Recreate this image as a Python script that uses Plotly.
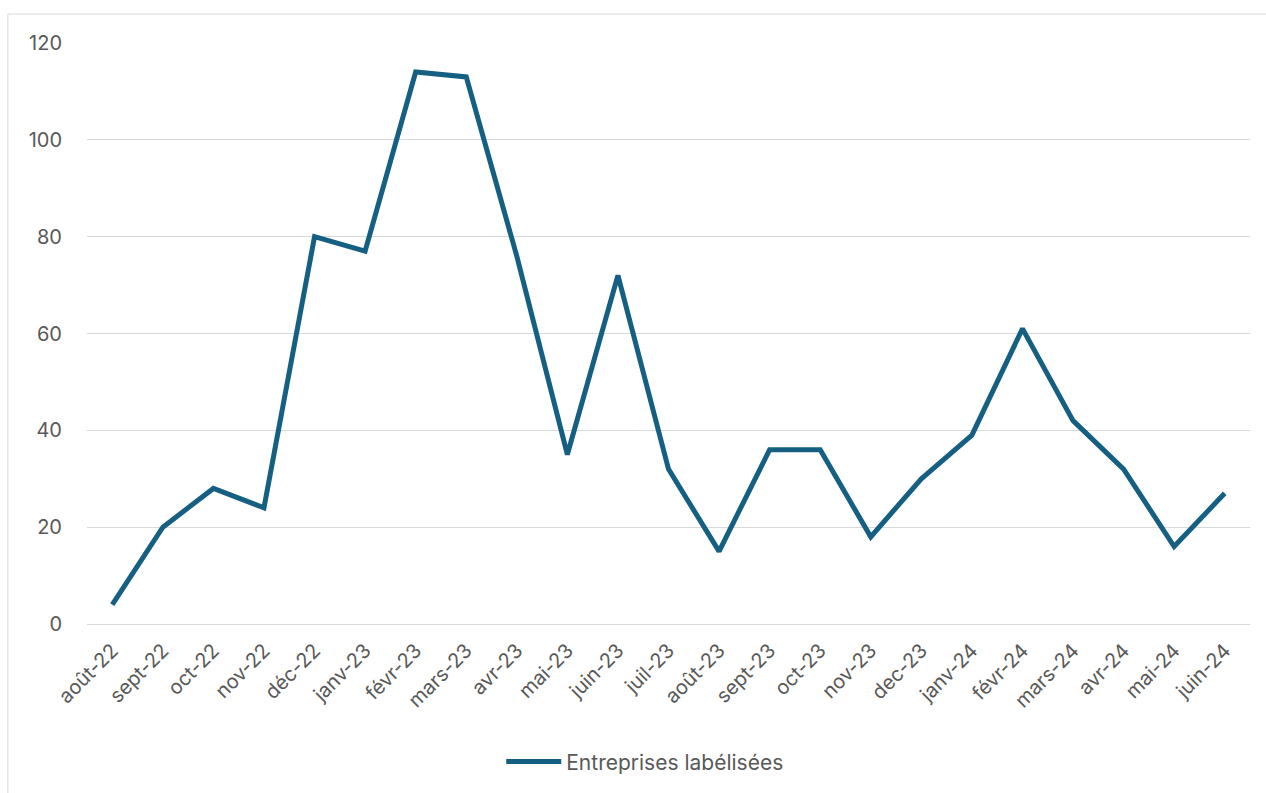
import plotly.graph_objects as go

# Monthly count of labelled companies
months = [
    "août-22", "sept-22", "oct-22", "nov-22", "déc-22", "janv-23", "févr-23",
    "mars-23", "avr-23", "mai-23", "juin-23", "juil-23", "août-23", "sept-23",
    "oct-23", "nov-23", "dec-23", "janv-24", "févr-24", "mars-24", "avr-24",
    "mai-24", "juin-24",
]
labelled = [4, 20, 28, 24, 80, 77, 114, 113, 76, 35, 72, 32, 15, 36, 36, 18,
            30, 39, 61, 42, 32, 16, 27]

y_ticks = [0, 20, 40, 60, 80, 100, 120]

LINE_COLOR = "#156082"
TEXT_COLOR = "#595959"
GRID_COLOR = "#d9d9d9"
FONT = "Inter, Open Sans, sans-serif"

fig = go.Figure()
fig.add_trace(go.Scatter(
    x=months,
    y=labelled,
    mode="lines",
    name="Entreprises labélisées",
    line=dict(color=LINE_COLOR, width=5, shape="linear"),
))

fig.update_layout(
    width=1266,
    height=793,
    margin=dict(l=87, r=16, t=43, b=168),
    paper_bgcolor="white",
    plot_bgcolor="white",
    font=dict(family=FONT, size=20, color=TEXT_COLOR),
    showlegend=True,
    legend=dict(
        orientation="h",
        x=0.48,
        xanchor="center",
        y=-0.235,
        yanchor="middle",
        font=dict(size=21, color=TEXT_COLOR),
        itemwidth=55,
    ),
    xaxis=dict(
        type="category",
        range=[-0.5, len(months) - 0.5],
        tickangle=-45,
        showgrid=False,
        showline=False,
        ticks="",
        zeroline=False,
        ticklabelstandoff=10,
        tickfont=dict(size=20, color=TEXT_COLOR),
    ),
    yaxis=dict(
        range=[0, 120],
        tickvals=y_ticks,
        showgrid=True,
        gridcolor=GRID_COLOR,
        gridwidth=1,
        zeroline=True,
        zerolinecolor=GRID_COLOR,
        zerolinewidth=1,
        showline=False,
        ticks="",
        ticklabelstandoff=24,
        tickfont=dict(size=20, color=TEXT_COLOR),
    ),
    shapes=[dict(
        type="rect",
        xref="paper", yref="paper",
        x0=-0.068, x1=1.05, y0=-0.4, y1=1.0498,
        line=dict(color=GRID_COLOR, width=1),
        fillcolor="rgba(0,0,0,0)",
        layer="below",
    )],
)

fig.write_html("out.html")
